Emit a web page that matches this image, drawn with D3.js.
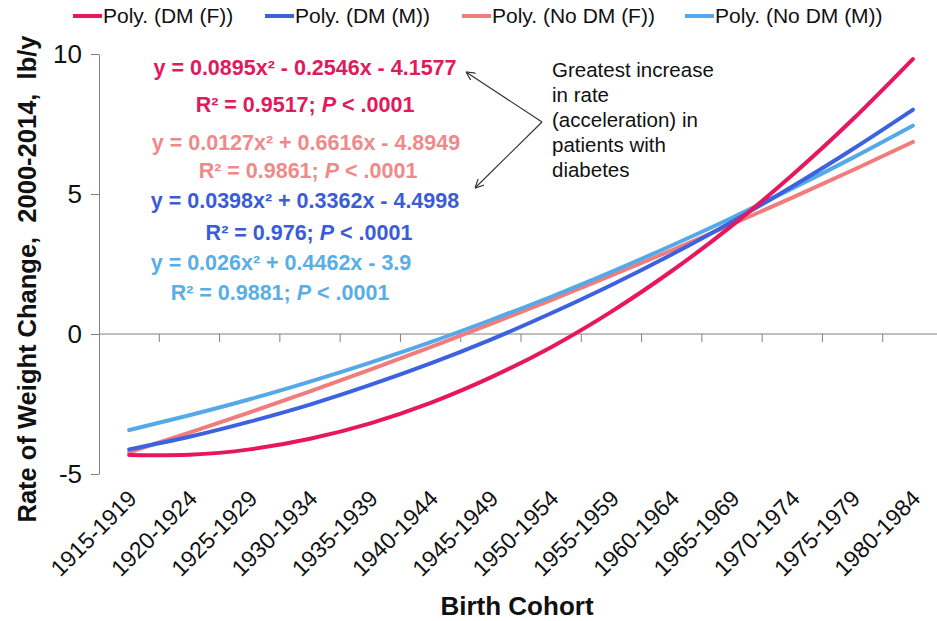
<!DOCTYPE html>
<html>
<head>
<meta charset="utf-8">
<script src="https://cdn.jsdelivr.net/npm/d3@7"></script>
<style>
  body { margin: 0; background: #fff; }
  svg { font-family: 'Liberation Sans', Arial, sans-serif; }
</style>
</head>
<body>
<div id="chart"></div>
<script>
// birth cohorts on the x axis
const cohorts = ['1915-1919', '1920-1924', '1925-1929', '1930-1934', '1935-1939', '1940-1944', '1945-1949',
  '1950-1954', '1955-1959', '1960-1964', '1965-1969', '1970-1974', '1975-1979', '1980-1984']

// trendline values, lb/y
const dmF = [-4.32, -4.31, -4.12, -3.74, -3.19, -2.46, -1.55, -0.47, 0.8, 2.25, 3.87, 5.68, 7.66, 9.82]
const dmM = [-4.12, -3.67, -3.13, -2.52, -1.82, -1.05, -0.2, 0.74, 1.75, 2.84, 4.01, 5.27, 6.6, 8.01]
const noDmF = [-4.22, -3.52, -2.8, -2.05, -1.27, -0.47, 0.36, 1.21, 2.09, 2.99, 3.92, 4.87, 5.85, 6.86]
const noDmM = [-3.43, -2.9, -2.33, -1.7, -1.02, -0.29, 0.5, 1.33, 2.22, 3.16, 4.15, 5.2, 6.29, 7.44]

const seriesNames = ['Poly. (DM (F))', 'Poly. (DM (M))', 'Poly. (No DM (F))', 'Poly. (No DM (M))']
const seriesColors = ['#e8175d', '#3d62e0', '#f07c7c', '#56a9e8']
const yTicks = [-5, 0, 5, 10]

// fitted equations shown on the chart
const eqLines = [
  { t: ['y = 0.0895x² - 0.2546x - 4.1577'], c: 0 },
  { t: ['R² = 0.9517; ', 'P', ' < .0001'], c: 0 },
  { t: ['y = 0.0127x² + 0.6616x - 4.8949'], c: 2 },
  { t: ['R² = 0.9861; ', 'P', ' < .0001'], c: 2 },
  { t: ['y = 0.0398x² + 0.3362x - 4.4998'], c: 1 },
  { t: ['R² = 0.976; ', 'P', ' < .0001'], c: 1 },
  { t: ['y = 0.026x² + 0.4462x - 3.9'], c: 3 },
  { t: ['R² = 0.9881; ', 'P', ' < .0001'], c: 3 }
]
const noteLines = ['Greatest increase', 'in rate', '(acceleration) in', 'patients with', 'diabetes']

const width = 937, height = 621
const svg = d3.select('#chart').append('svg').attr('width', width).attr('height', height)

const x = d3.scaleBand().domain(cohorts).range([99, 943])
const y = d3.scaleLinear().domain([-5, 10]).range([474, 54])

// y axis
const yAxis = svg.append('g').attr('transform', 'translate(99,0)')
  .call(d3.axisLeft(y).tickValues(yTicks).tickFormat(d => String(d)).tickSize(8).tickSizeOuter(0).tickPadding(9))
yAxis.select('.domain').attr('stroke', '#808080')
yAxis.selectAll('.tick line').attr('stroke', '#808080')
yAxis.selectAll('.tick text').attr('font-size', 26).attr('fill', '#111').attr('font-family', 'Liberation Sans, Arial')

// x axis line at zero with boundary ticks
svg.append('line')
  .attr('x1', x.range()[0]).attr('x2', x.range()[1])
  .attr('y1', y(0)).attr('y2', y(0))
  .attr('stroke', '#808080')
svg.append('g').selectAll('line')
  .data(cohorts.slice(1))
  .enter()
  .append('line')
  .attr('x1', d => x(d)).attr('x2', d => x(d))
  .attr('y1', y(0)).attr('y2', y(0) + 8)
  .attr('stroke', '#808080')

// cohort labels along the bottom
svg.append('g').selectAll('text')
  .data(cohorts)
  .enter()
  .append('text')
  .attr('transform', d => `translate(${x(d) + x.bandwidth() / 2 + 9},${y(-5) + 26}) rotate(-45)`)
  .attr('text-anchor', 'end')
  .attr('font-size', 23)
  .attr('fill', '#111')
  .text(d => d)

// axis titles
svg.append('text')
  .attr('x', 517).attr('y', 615)
  .attr('text-anchor', 'middle')
  .attr('font-size', 26).attr('font-weight', 'bold').attr('fill', '#111')
  .text('Birth Cohort')
svg.append('text')
  .attr('transform', 'translate(36,279) rotate(-90)')
  .attr('text-anchor', 'middle')
  .attr('font-size', 25.5).attr('font-weight', 'bold').attr('fill', '#111')
  .attr('xml:space', 'preserve')
  .text('Rate of Weight Change,  2000-2014,  lb/y')

// trend curves
const line = d3.line()
  .x((d, i) => x(cohorts[i]) + x.bandwidth() / 2)
  .y(d => y(d))
  .curve(d3.curveNatural)
const plotted = [noDmF, noDmM, dmM, dmF]
const plottedColors = [seriesColors[2], seriesColors[3], seriesColors[1], seriesColors[0]]
svg.append('g').selectAll('path')
  .data(plotted)
  .enter()
  .append('path')
  .attr('d', line)
  .attr('fill', 'none')
  .attr('stroke', (d, i) => plottedColors[i])
  .attr('stroke-width', 4)
  .attr('stroke-linecap', 'round')

// legend
const legendX = [73, 265, 462, 685]
const legend = svg.append('g').selectAll('g')
  .data(seriesNames)
  .enter()
  .append('g')
  .attr('transform', (d, i) => `translate(${legendX[i]},16)`)
legend.append('line')
  .attr('x1', 0).attr('x2', 29)
  .attr('stroke', (d, i) => seriesColors[i])
  .attr('stroke-width', 4)
legend.append('text')
  .attr('x', 30).attr('dy', '0.35em')
  .attr('font-size', 21).attr('fill', '#111')
  .text(d => d)

// equation labels
const textColors = ['#e01a5c', '#3a5cd6', '#f08a8a', '#5aaee6']
const eqX = [305, 305, 306, 308, 305, 309, 281, 280]
const eqY = [75, 112, 150, 178, 208, 240, 270, 300]
const eq = svg.append('g').selectAll('text')
  .data(eqLines)
  .enter()
  .append('text')
  .attr('x', (d, i) => eqX[i]).attr('y', (d, i) => eqY[i])
  .attr('text-anchor', 'middle')
  .attr('font-size', 21.5)
  .attr('font-weight', 'bold')
  .attr('fill', d => textColors[d.c])
eq.selectAll('tspan')
  .data(d => d.t)
  .enter()
  .append('tspan')
  .attr('font-style', d => (d === 'P' ? 'italic' : 'normal'))
  .attr('xml:space', 'preserve')
  .text(d => d)

// note with arrows
svg.append('defs').append('marker')
  .attr('id', 'arr')
  .attr('viewBox', '0 0 10 10')
  .attr('refX', 10).attr('refY', 5)
  .attr('markerWidth', 9).attr('markerHeight', 9)
  .attr('markerUnits', 'userSpaceOnUse')
  .attr('orient', 'auto')
  .append('path')
  .attr('d', 'M0,0 L10,5 L0,10')
  .attr('fill', 'none')
  .attr('stroke', '#333')
  .attr('stroke-width', 1.3)
const arrowEnds = [[466, 72], [475, 188]]
svg.append('g').selectAll('line')
  .data(arrowEnds)
  .enter()
  .append('line')
  .attr('x1', 542).attr('y1', 122)
  .attr('x2', d => d[0]).attr('y2', d => d[1])
  .attr('stroke', '#333').attr('stroke-width', 1.2)
  .attr('marker-end', 'url(#arr)')
svg.append('g').selectAll('text')
  .data(noteLines)
  .enter()
  .append('text')
  .attr('x', 552).attr('y', (d, i) => 77 + i * 25)
  .attr('font-size', 20.5).attr('fill', '#111')
  .text(d => d)
</script>
</body>
</html>
